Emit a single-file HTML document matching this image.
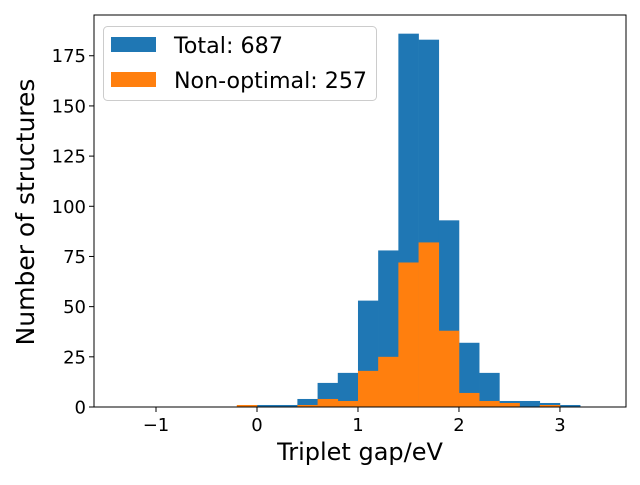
<!DOCTYPE html>
<html><head><meta charset="utf-8"><style>
body{margin:0;background:#fff;}
svg text{font-family:"DejaVu Sans","Liberation Sans",sans-serif;fill:#000;}
</style></head><body>
<svg id="chart" width="640" height="480" xmlns="http://www.w3.org/2000/svg"></svg>
<script>
const binStart = -1.4;
const binWidth = 0.2;
const totalCounts = [0,0,0,0,0,0,0,1,1,4,12,17,53,78,186,183,93,32,17,3,3,2,1,0];
const nonOptimalCounts = [0,0,0,0,0,0,1,0,0,1,4,3,18,25,72,82,38,7,3,2,0,1,0,0];
const xTicks = [-1,0,1,2,3];
const xTickLabels = ["\u22121","0","1","2","3"];
const yTicks = [0,25,50,75,100,125,150,175];
const legendLabels = ["Total: 687","Non-optimal: 257"];

const L=94,R=626,T=15,B=407;
const xMin=-1.614,xMax=3.654,yMax=195.3;
const sx=v=>L+(v-xMin)/(xMax-xMin)*(R-L);
const sy=v=>B-v/yMax*(B-T);
const svg=document.getElementById('chart');
const NS='http://www.w3.org/2000/svg';
function mk(tag,attrs,parent){const e=document.createElementNS(NS,tag);for(const k in attrs)e.setAttribute(k,attrs[k]);(parent||svg).appendChild(e);return e;}

function drawSeries(counts,color,name){
  const g=mk('g',{});
  
  
  counts.forEach((c,i)=>{
    if(c<=0)return;
    const x0=sx(binStart+i*binWidth),x1=sx(binStart+(i+1)*binWidth);
    const r=mk('rect',{x:x0,y:sy(c),width:x1-x0+0.3,height:B-sy(c),fill:color},g);
    
    
  });
}
drawSeries(totalCounts,'#1f77b4','total');
drawSeries(nonOptimalCounts,'#ff7f0e','non-optimal');

const frame=mk('rect',{x:L,y:T,width:R-L,height:B-T,fill:'none',stroke:'#000','stroke-width':1});



xTicks.forEach((v,i)=>{
  const x=sx(v);
  const t=mk('line',{x1:x,x2:x,y1:B,y2:B+5,stroke:'#000'});
  
  
  const lb=mk('text',{x:x,y:B+24,'text-anchor':'middle','font-size':18});
  lb.textContent=xTickLabels[i];
  
  
});
yTicks.forEach(v=>{
  const y=sy(v);
  const t=mk('line',{x1:L-5,x2:L,y1:y,y2:y,stroke:'#000'});
  
  
  const lb=mk('text',{x:L-8,y:y+6.5,'text-anchor':'end','font-size':18});
  lb.textContent=v;
  
  
});
const xt=mk('text',{x:(L+R)/2,y:460,'text-anchor':'middle','font-size':24});
xt.textContent='Triplet gap/eV';


const yt=mk('text',{x:0,y:0,'text-anchor':'middle','font-size':25,transform:'translate(34,'+((T+B)/2+1)+') rotate(-90)'});
yt.textContent='Number of structures';



const lg=mk('g',{});


mk('rect',{x:103.5,y:26.5,width:273,height:74,rx:4,fill:'#fff','fill-opacity':0.8,stroke:'#ccc'},lg);
const colors=['#1f77b4','#ff7f0e'];
legendLabels.forEach((s,i)=>{
  const sw=mk('rect',{x:111,y:37+i*35,width:45,height:15,fill:colors[i]},lg);
  
  
  const tx=mk('text',{x:174,y:53+i*35,'font-size':22,textLength:i===0?109:193,lengthAdjust:'spacingAndGlyphs'},lg);
  tx.textContent=s;
  
  
});
</script>
</body></html>
